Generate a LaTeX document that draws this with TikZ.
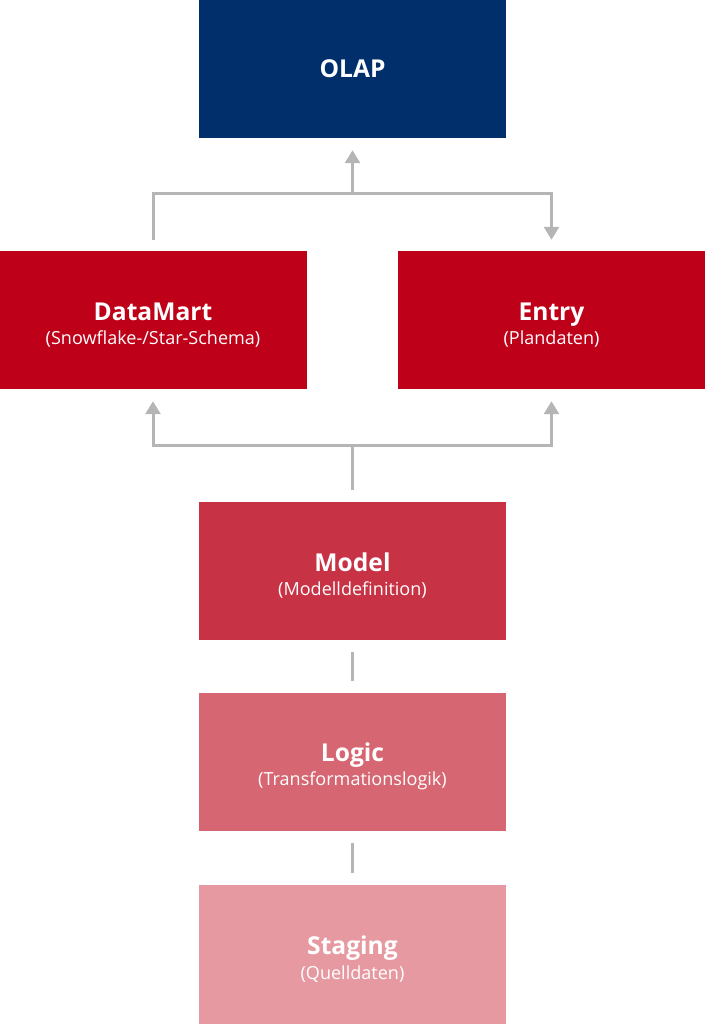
\documentclass[tikz,border=0pt]{standalone}
\usepackage{fontspec}
\setmainfont{Open Sans}
\usepackage{tikz}
\usetikzlibrary{arrows.meta}
\definecolor{olapblue}{HTML}{002F6C}
\definecolor{layerred}{HTML}{BE0018}
\definecolor{modelred}{HTML}{C83245}
\definecolor{logicred}{HTML}{D66672}
\definecolor{stagered}{HTML}{E699A1}
\definecolor{conngray}{HTML}{B5B5B5}
\newcommand{\layertext}[2]{\rule{0pt}{23.5pt}{\fontsize{21pt}{21pt}\selectfont\bfseries #1}\\{#2}}

\begin{document}
\begin{tikzpicture}[x=0.03cm,y=0.03cm]
					\tikzstyle{layer}=[rectangle,minimum width=9.21cm,minimum height=4.14cm,inner sep=0pt,text=white,align=center,font=\fontsize{15.4pt}{21pt}\selectfont]
					\tikzstyle{conn}=[draw=conngray,line width=0.09cm]
					\tikzstyle{tip}=[-{Triangle[width=0.45cm,length=0.39cm]}]
					\useasboundingbox (0,0) rectangle (705,1024);
					\node[layer,fill=olapblue](olap) at (352.5,955) {{\fontsize{21pt}{21pt}\selectfont\bfseries OLAP}};
					\node[layer,fill=layerred](dm) at (153,704) {\layertext{DataMart}{(Snowflake-/Star-Schema)}};
					\node[layer,fill=layerred](entry) at (551.5,704) {\layertext{Entry}{(Plandaten)}};
					\node[layer,fill=modelred](model) at (352.5,453) {\layertext{Model}{(Modelldefinition)}};
					\node[layer,fill=logicred](logic) at (352.5,262) {\layertext{Logic}{(Transformationslogik)}};
					\node[layer,fill=stagered](staging) at (352.5,69.5) {\layertext{Staging}{(Quelldaten)}};
					% DataMart -> Entry, Richtung OLAP
					\draw[conn,tip,shorten <=0.33cm,shorten >=0.33cm]
						(dm.north) -- ++(0,57) coordinate (topbar) -| (entry.north);
					\draw[conn,tip,shorten >=0.36cm] (olap.south |- topbar) -- (olap.south);
					% Model -> DataMart / Entry
					\draw[conn,shorten <=0.36cm] (model.north) -- ++(0,56) coordinate (midbar);
					\draw[conn,tip,shorten >=0.36cm] ([xshift=1.4pt]midbar) -| (dm.south);
					\draw[conn,tip,shorten >=0.36cm] ([xshift=-1.4pt]midbar) -| (entry.south);
					% Logic -> Model, Staging -> Logic
					\path[conn,shorten <=0.36cm,shorten >=0.36cm]
						(logic) edge (model)
						(staging) edge (logic);
				\end{tikzpicture}
\end{document}
